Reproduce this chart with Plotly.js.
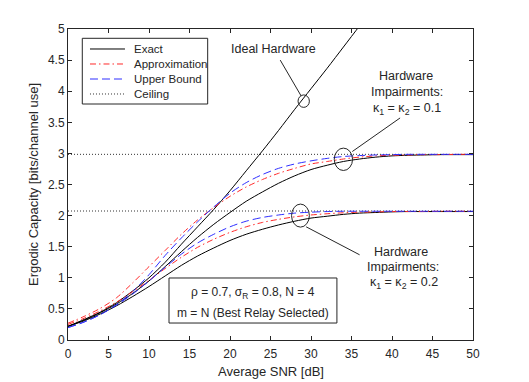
<!DOCTYPE html>
<html>
<head>
<meta charset="utf-8">
<script src="https://cdn.plot.ly/plotly-3.0.1.min.js"></script>
<style>
  html, body { margin: 0; padding: 0; background: #fff; }
  #chart { width: 529px; height: 382px; }
</style>
</head>
<body>
<div id="chart"></div>
<script>
// average SNR in dB
const snr = [0, 2, 4, 6, 8, 10, 12, 14, 16, 18, 20, 22, 24, 26, 28, 30, 32, 34, 36, 38, 40, 42, 44, 46, 48, 50];

// ideal hardware (exact), leaves the plot above 5
const idealExact = [0.22, 0.33, 0.45, 0.60, 0.79, 1.00, 1.25, 1.54, 1.82, 2.10, 2.40, 2.72, 3.04, 3.37, 3.71, 4.04, 4.37, 4.71, 5.05, 5.38];

// kappa1 = kappa2 = 0.1
const exact01 = [0.22, 0.32, 0.44, 0.58, 0.75, 0.95, 1.18, 1.42, 1.65, 1.86, 2.05, 2.23, 2.38, 2.52, 2.64, 2.74, 2.81, 2.87, 2.91, 2.94, 2.96, 2.97, 2.975, 2.98, 2.98, 2.98];
const approx01 = [0.27, 0.38, 0.51, 0.68, 0.92, 1.18, 1.44, 1.70, 1.93, 2.13, 2.31, 2.46, 2.58, 2.68, 2.76, 2.83, 2.87, 2.91, 2.94, 2.96, 2.97, 2.975, 2.98, 2.98, 2.985, 2.985];
const upper01 = [0.20, 0.29, 0.41, 0.57, 0.78, 1.05, 1.36, 1.64, 1.90, 2.14, 2.36, 2.53, 2.66, 2.76, 2.83, 2.88, 2.92, 2.95, 2.965, 2.975, 2.98, 2.985, 2.985, 2.985, 2.985, 2.985];

// kappa1 = kappa2 = 0.2
const exact02 = [0.22, 0.31, 0.42, 0.55, 0.70, 0.86, 1.03, 1.20, 1.35, 1.48, 1.60, 1.70, 1.78, 1.85, 1.91, 1.96, 1.99, 2.02, 2.04, 2.05, 2.06, 2.065, 2.065, 2.065, 2.065, 2.065];
const approx02 = [0.25, 0.35, 0.47, 0.61, 0.78, 0.96, 1.15, 1.33, 1.49, 1.62, 1.73, 1.82, 1.89, 1.94, 1.98, 2.01, 2.03, 2.045, 2.055, 2.06, 2.065, 2.065, 2.065, 2.07, 2.07, 2.07];
const upper02 = [0.20, 0.29, 0.41, 0.56, 0.74, 0.95, 1.17, 1.38, 1.56, 1.70, 1.82, 1.91, 1.97, 2.01, 2.04, 2.055, 2.065, 2.07, 2.07, 2.07, 2.07, 2.07, 2.07, 2.07, 2.07, 2.07];

// capacity ceilings
const ceilingX = [0, 50];
const ceiling01 = [2.985, 2.985];
const ceiling02 = [2.074, 2.074];

// legend entries (drawn by hand so the box is as compact as the original)
const legendLabels = ['Exact', 'Approximation', 'Upper Bound', 'Ceiling'];

const FONT = 'Liberation Sans, Arial, Helvetica, sans-serif';
const INK = '#262626';

const EXACT = { color: '#000000', width: 1, dash: 'solid' };
const APPROX = { color: '#ff2a2a', width: 1, dash: '6px,3px,1.5px,3px' };
const UPPER = { color: '#2f2fff', width: 1, dash: '8px,4px' };
const CEIL = { color: '#333333', width: 1, dash: '1px,2px' };
const legendStyles = [EXACT, APPROX, UPPER, CEIL];

function curve(x, y, line) {
  return {
    x: x, y: y,
    type: 'scatter', mode: 'lines',
    line: { ...line, shape: 'spline', smoothing: 0.8 },
    showlegend: false,
    hoverinfo: 'skip',
  };
}

const traces = [
  curve(ceilingX, ceiling01, CEIL),
  curve(ceilingX, ceiling02, CEIL),
  curve(snr.slice(0, idealExact.length), idealExact, EXACT),
  curve(snr, exact01, EXACT),
  curve(snr, approx01, APPROX),
  curve(snr, upper01, UPPER),
  curve(snr, exact02, EXACT),
  curve(snr, approx02, APPROX),
  curve(snr, upper02, UPPER),
];

const thin = { color: INK, width: 1 };
const shapes = [
  // circles marking the curves
  { type: 'circle', xref: 'x', yref: 'y', x0: 28.4, x1: 29.8, y0: 3.74, y1: 3.94, line: thin },
  { type: 'circle', xref: 'x', yref: 'y', x0: 32.87, x1: 35.13, y0: 2.725, y1: 3.085, line: thin },
  { type: 'circle', xref: 'x', yref: 'y', x0: 27.6, x1: 29.8, y0: 1.815, y1: 2.185, line: thin },
  // pointer lines
  { type: 'line', xref: 'x', yref: 'y', x0: 26.2, y0: 4.50, x1: 28.8, y1: 3.92, line: thin },
  { type: 'line', xref: 'x', yref: 'y', x0: 41.0, y0: 3.57, x1: 35.1, y1: 3.03, line: thin },
  { type: 'line', xref: 'x', yref: 'y', x0: 29.4, y0: 1.82, x1: 36.0, y1: 1.37, line: thin },
  // parameter box
  { type: 'rect', xref: 'x', yref: 'y', x0: 12.47, x1: 33.2, y0: 0.273, y1: 0.997,
    line: { color: INK, width: 1 }, fillcolor: '#ffffff' },
  // legend box
  { type: 'rect', xref: 'paper', yref: 'paper', x0: 0.0353, x1: 0.3449, y0: 0.7588, y1: 0.9701,
    line: { color: INK, width: 1 }, fillcolor: '#ffffff' },
];

const legendRowY = [0.9357, 0.8875, 0.8392, 0.7910];
legendStyles.forEach((st, i) => {
  shapes.push({
    type: 'line', xref: 'paper', yref: 'paper',
    x0: 0.0543, x1: 0.1407, y0: legendRowY[i], y1: legendRowY[i],
    line: { color: st.color, width: st.width, dash: st.dash },
  });
});

const note = (text, x, y, size) => ({
  text: text, x: x, y: y, xref: 'x', yref: 'y',
  showarrow: false, xanchor: 'center', yanchor: 'middle',
  font: { family: FONT, size: size || 12.5, color: INK },
});

const annotations = [
  note('Ideal Hardware', 25.4, 4.68),
  note('Hardware', 41.7, 4.24),
  note('Impairments:', 41.8, 3.99),
  note('κ<sub>1</sub> = κ<sub>2</sub> = 0.1', 41.9, 3.72),
  note('Hardware', 41.1, 1.42),
  note('Impairments:', 41.3, 1.18),
  note('κ<sub>1</sub> = κ<sub>2</sub> = 0.2', 41.5, 0.91),
  note('ρ = 0.7, σ<sub>R</sub> = 0.8, N = 4', 22.8, 0.76, 12),
  note('m = N (Best Relay Selected)', 22.8, 0.43, 12),
  // x axis title
  {
    text: 'Average SNR [dB]', x: 0.5, y: -0.0997, xref: 'paper', yref: 'paper',
    showarrow: false, xanchor: 'center', yanchor: 'middle',
    font: { family: FONT, size: 13, color: INK },
  },
];

legendLabels.forEach((label, i) => {
  annotations.push({
    text: label, x: 0.1573, y: legendRowY[i], xref: 'paper', yref: 'paper',
    showarrow: false, xanchor: 'left', yanchor: 'middle',
    font: { family: FONT, size: 11.5, color: INK },
  });
});

const axis = {
  showline: true, linecolor: INK, linewidth: 1,
  mirror: 'ticks', ticks: 'inside', ticklen: 4, tickcolor: INK,
  showgrid: false, zeroline: false,
  tickfont: { family: FONT, size: 12, color: INK },
};

const layout = {
  width: 529, height: 382,
  margin: { l: 68, r: 56, t: 29, b: 42 },
  paper_bgcolor: '#ffffff', plot_bgcolor: '#ffffff',
  font: { family: FONT, color: INK },
  xaxis: { ...axis, range: [0, 50], dtick: 5, tick0: 0, ticklabelstandoff: 3 },
  yaxis: {
    ...axis, range: [0, 5], dtick: 0.5, tick0: 0,
    title: { text: 'Ergodic Capacity [bits/channel use]', font: { family: FONT, size: 13, color: INK }, standoff: 6 },
  },
  shapes: shapes,
  annotations: annotations,
  showlegend: false,
};

Plotly.newPlot('chart', traces, layout, { displayModeBar: false, staticPlot: true });
</script>
</body>
</html>
